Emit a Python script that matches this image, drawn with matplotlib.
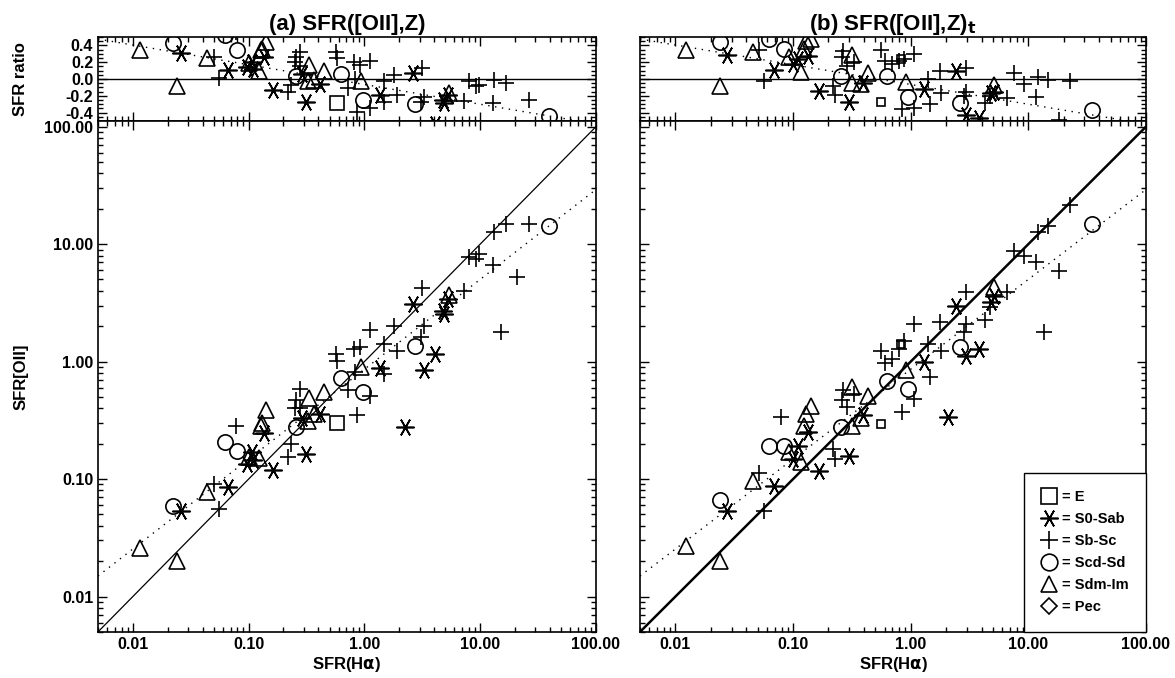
import numpy as np
import matplotlib
matplotlib.use('Agg')
import matplotlib.pyplot as plt
from matplotlib.lines import Line2D
from matplotlib.ticker import FormatStrFormatter, MultipleLocator, NullFormatter

plt.rcParams['font.family'] = ['Liberation Sans', 'DejaVu Sans']
plt.rcParams['font.weight'] = 'bold'
plt.rcParams['axes.unicode_minus'] = False

# ---- panel (a): SFR(Halpha) vs SFR([OII],Z) per morphological type ----
A_E_HA = [0.575]
A_E_OII = [0.30]
A_S0_HA = [0.026, 0.066, 0.106, 0.096, 0.11, 0.135, 0.164, 0.31, 0.29, 0.41,
           1.37, 2.24, 2.63, 3.24, 4.05, 4.9, 5.3, 4.8]
A_S0_OII = [0.053, 0.085, 0.17, 0.135, 0.145, 0.245, 0.12, 0.165, 0.33, 0.355,
            0.89, 0.28, 3.12, 0.84, 1.17, 2.56, 3.4, 2.7]
A_SB_HA = [0.050, 0.055, 0.078, 0.22, 0.233, 0.25, 0.257, 0.28, 0.28, 0.565,
           0.58, 0.72, 0.82, 0.83, 0.87, 0.91, 1.12, 1.12, 1.48, 1.48,
           1.8, 1.9, 3.1, 3.24, 3.13, 7.3, 8.05, 9.2, 9.8, 12.9,
           13.2, 15.1, 16.7, 20.7, 26.2]
A_SB_OII = [0.091, 0.056, 0.285, 0.155, 0.20, 0.40, 0.47, 0.59, 0.40, 1.17,
            1.02, 0.57, 1.29, 0.82, 0.35, 1.34, 1.84, 0.51, 0.79, 1.42,
            2.0, 1.22, 1.63, 1.99, 4.2, 4.0, 7.7, 7.5, 8.3, 6.7,
            12.8, 1.77, 14.9, 5.3, 14.9]
A_SCD_HA = [0.0224, 0.062, 0.080, 0.257, 0.63, 0.98, 2.73, 39.6]
A_SCD_OII = [0.0595, 0.205, 0.175, 0.28, 0.72, 0.556, 1.37, 14.4]
A_SDM_HA = [0.0115, 0.024, 0.044, 0.10, 0.122, 0.127, 0.13, 0.14, 0.325, 0.33,
            0.37, 0.45, 0.94, 5.4]
A_SDM_OII = [0.0257, 0.020, 0.078, 0.155, 0.15, 0.285, 0.30, 0.39, 0.31, 0.49,
             0.36, 0.555, 0.90, 3.7]

# ---- panel (b): SFR(Halpha) vs SFR([OII],Z)_t ----
B_E_HA = [0.56, 0.83]
B_E_OII = [0.297, 1.42]
B_S0_HA = [0.0277, 0.0695, 0.10, 0.11, 0.133, 0.165, 0.30, 0.39, 1.3, 2.07,
           2.42, 2.98, 3.8, 4.8, 5.1]
B_S0_OII = [0.054, 0.088, 0.149, 0.19, 0.25, 0.118, 0.158, 0.35, 1.0, 0.34,
            3.0, 1.12, 1.29, 3.24, 3.6]
B_SB_HA = [0.051, 0.057, 0.079, 0.22, 0.228, 0.26, 0.265, 0.29, 0.33, 0.56,
           0.60, 0.70, 0.79, 0.84, 0.87, 1.06, 1.06, 1.4, 1.46, 1.78,
           1.8, 2.85, 2.93, 2.98, 4.3, 4.7, 6.6, 7.5, 9.1, 11.7,
           12.1, 13.6, 14.7, 18.2, 22.8]
B_SB_OII = [0.112, 0.054, 0.34, 0.18, 0.149, 0.47, 0.57, 0.41, 0.53, 1.24,
            0.98, 1.06, 1.29, 0.37, 1.5, 2.1, 0.48, 1.42, 0.745, 2.19,
            1.24, 1.8, 3.94, 2.1, 2.24, 2.94, 3.94, 8.8, 7.95, 7.1,
            12.8, 1.8, 14.4, 5.9, 21.7]
B_SCD_HA = [0.0237, 0.063, 0.083, 0.256, 0.63, 0.94, 2.6, 34.7]
B_SCD_OII = [0.066, 0.19, 0.19, 0.28, 0.69, 0.58, 1.34, 14.9]
B_SDM_HA = [0.0123, 0.024, 0.046, 0.093, 0.117, 0.124, 0.128, 0.141, 0.32, 0.32,
            0.38, 0.43, 0.91, 5.1]
B_SDM_OII = [0.027, 0.020, 0.097, 0.17, 0.14, 0.285, 0.36, 0.42, 0.285, 0.61,
             0.33, 0.51, 0.84, 4.35]

# log-log fit (dotted line): log SFR[OII] = FIT_A + FIT_B * log SFR(Ha)
FIT_A = -0.065
FIT_B = 0.765

XLIM = (0.005, 100.0)
YLIM = (0.005, 112.0)
RLIM = (-0.5, 0.5)

TYPE_LABELS = ['= E', '= S0-Sab', '= Sb-Sc', '= Scd-Sd', '= Sdm-Im', '= Pec']

ast = (6, 2, 90)
mkw = dict(ls='none', color='black', mfc='none', mec='black', mew=1.2)


def panel_sets(e_ha, e_oii, s0_ha, s0_oii, sb_ha, sb_oii, scd_ha, scd_oii, sdm_ha, sdm_oii, e_ms):
    return [
        (e_ha, e_oii, dict(marker='s', ms=e_ms)),
        (s0_ha, s0_oii, dict(marker=ast, ms=13)),
        (sb_ha, sb_oii, dict(marker='+', ms=12)),
        (scd_ha, scd_oii, dict(marker='o', ms=11)),
        (sdm_ha, sdm_oii, dict(marker='^', ms=12)),
    ]


def style_axes(ax):
    ax.tick_params(which='both', direction='in', top=True, right=True,
                   labelsize=11.5, width=1.0)
    ax.tick_params(which='major', length=6.5)
    ax.tick_params(which='minor', length=3.5)
    for sp in ax.spines.values():
        sp.set_linewidth(1.2)


def draw_panel(fig, left, width, sets, title, solid_lw, show_ylabels):
    ax_r = fig.add_axes([left, 0.8215, width, 0.1239])
    ax = fig.add_axes([left, 0.068, width, 0.7537])

    xfit = np.logspace(np.log10(XLIM[0]), np.log10(XLIM[1]), 50)
    yfit = 10 ** (FIT_A + FIT_B * np.log10(xfit))

    # main panel
    ax.plot(XLIM, XLIM, color='black', lw=solid_lw)
    ax.plot(xfit, yfit, color='black', lw=1.0, ls=(0, (1, 4)))
    for ha, oii, kw in sets:
        ax.plot(ha, oii, **mkw, **kw)
    ax.set_xscale('log')
    ax.set_yscale('log')
    ax.set_xlim(XLIM)
    ax.set_ylim(YLIM)
    ax.xaxis.set_major_formatter(FormatStrFormatter('%.2f'))
    ax.yaxis.set_major_formatter(FormatStrFormatter('%.2f'))
    ax.xaxis.set_minor_formatter(NullFormatter())
    ax.yaxis.set_minor_formatter(NullFormatter())
    ax.set_xlabel(r'SFR(H$\mathbf{\alpha}$)', fontsize=12, fontweight='bold', labelpad=2)
    style_axes(ax)

    # ratio panel: log of SFR[OII] / SFR(Ha)
    ax_r.axhline(0.0, color='black', lw=1.0)
    ax_r.plot(xfit, np.log10(yfit / xfit), color='black', lw=1.0, ls=(0, (1, 4)))
    for ha, oii, kw in sets:
        ha = np.array(ha)
        oii = np.array(oii)
        ax_r.plot(ha, np.log10(oii / ha), **mkw, **kw)
    ax_r.set_xscale('log')
    ax_r.set_xlim(XLIM)
    ax_r.set_ylim(RLIM)
    ax_r.set_yticks([-0.4, -0.2, 0.0, 0.2, 0.4])
    ax_r.yaxis.set_minor_locator(MultipleLocator(0.05))
    ax_r.yaxis.set_major_formatter(FormatStrFormatter('%.1f'))
    ax_r.xaxis.set_major_formatter(NullFormatter())
    ax_r.xaxis.set_minor_formatter(NullFormatter())
    ax_r.set_title(title, fontsize=16, fontweight='bold', pad=5)
    style_axes(ax_r)

    if show_ylabels:
        ax.set_ylabel('SFR[OII]', fontsize=12, fontweight='bold')
        ax_r.set_ylabel('SFR ratio', fontsize=12, fontweight='bold')
        ax.yaxis.set_label_coords(-0.14, 0.5)
        ax_r.yaxis.set_label_coords(-0.14, 0.5)
    else:
        ax.tick_params(labelleft=False)
        ax_r.tick_params(labelleft=False)
    return ax, ax_r


fig = plt.figure(figsize=(11.75, 6.78), dpi=100)

sets_a = panel_sets(A_E_HA, A_E_OII, A_S0_HA, A_S0_OII, A_SB_HA, A_SB_OII,
                    A_SCD_HA, A_SCD_OII, A_SDM_HA, A_SDM_OII, e_ms=10)
sets_b = panel_sets(B_E_HA, B_E_OII, B_S0_HA, B_S0_OII, B_SB_HA, B_SB_OII,
                    B_SCD_HA, B_SCD_OII, B_SDM_HA, B_SDM_OII, e_ms=6)

ax_a, ax_ar = draw_panel(fig, 0.0834, 0.4238, sets_a, '(a) SFR([OII],Z)', 0.9, True)
ax_b, ax_br = draw_panel(fig, 0.5447, 0.4306, sets_b, r'(b) SFR([OII],Z)$_\mathbf{t}$', 1.8, False)

# legend with the morphological type symbols
handles = [
    Line2D([], [], marker='s', ms=11, **mkw),
    Line2D([], [], marker=ast, ms=13, **mkw),
    Line2D([], [], marker='+', ms=13, **mkw),
    Line2D([], [], marker='o', ms=12, **mkw),
    Line2D([], [], marker='^', ms=12, **mkw),
    Line2D([], [], marker='D', ms=8, **mkw),
]
leg = ax_b.legend(handles, TYPE_LABELS, loc='lower right', borderaxespad=0,
                  fancybox=False, edgecolor='black', framealpha=1,
                  handlelength=1.0, handletextpad=0.4, labelspacing=0.55,
                  borderpad=1.2, prop={'weight': 'bold', 'size': 10.5})
leg.get_frame().set_linewidth(1.0)

fig.savefig('out.png', dpi=100)
